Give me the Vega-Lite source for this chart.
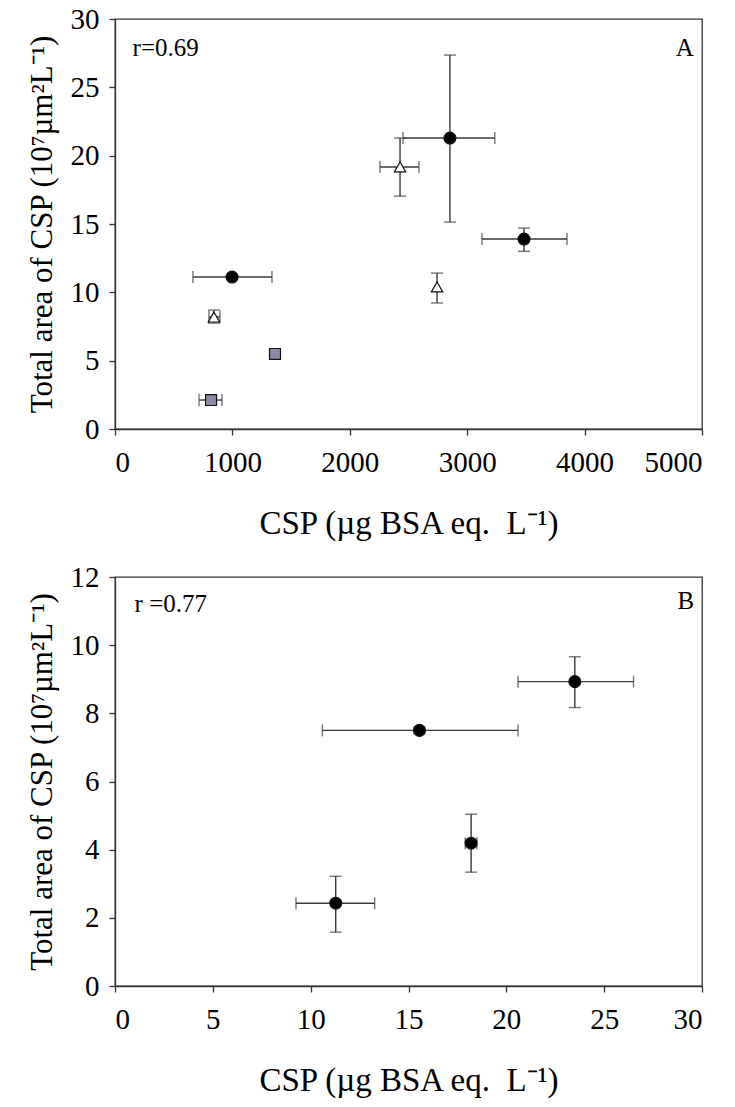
{
  "$schema": "https://vega.github.io/schema/vega-lite/v6.json",
  "padding": {"left": 25, "top": 4, "right": 5, "bottom": 2},
  "background": "white",
  "spacing": 21,
  "config": {
    "font": "Liberation Serif",
    "view": {"stroke": "#333333", "strokeWidth": 1.3},
    "axis": {
      "grid": false,
      "domainColor": "#333333",
      "domainWidth": 1.3,
      "tickColor": "#333333",
      "tickWidth": 1.3,
      "tickSize": 6,
      "labelFont": "Liberation Serif",
      "labelFontSize": 29,
      "labelColor": "black",
      "titleFont": "Liberation Serif",
      "titleFontWeight": "normal",
      "titleColor": "black",
      "format": "d"
    },
    "axisX": {"labelPadding": 13, "titlePadding": 30, "titleFontSize": 33},
    "axisY": {"labelPadding": 10, "titlePadding": 12, "titleFontSize": 31}
  },
  "datasets": {
    "A": [
      {"x": 997, "y": 11.12, "xlo": 664, "xhi": 1337, "ylo": 11.12, "yhi": 11.12, "type": "circle"},
      {"x": 2853, "y": 21.29, "xlo": 2453, "xhi": 3235, "ylo": 15.14, "yhi": 27.36, "type": "circle"},
      {"x": 3484, "y": 13.9, "xlo": 3126, "xhi": 3850, "ylo": 13.0, "yhi": 14.7, "type": "circle"},
      {"x": 2428, "y": 19.17, "xlo": 2257, "xhi": 2589, "ylo": 17.04, "yhi": 21.29, "type": "triangle"},
      {"x": 2743, "y": 10.39, "xlo": 2743, "xhi": 2743, "ylo": 9.22, "yhi": 11.41, "type": "triangle"},
      {"x": 843, "y": 8.19, "xlo": 800, "xhi": 894, "ylo": 7.75, "yhi": 8.7, "type": "triangle"},
      {"x": 1363, "y": 5.49, "xlo": 1363, "xhi": 1363, "ylo": 5.3, "yhi": 5.7, "type": "square"},
      {"x": 818, "y": 2.12, "xlo": 716, "xhi": 911, "ylo": 2.12, "yhi": 2.12, "type": "square"}
    ],
    "B": [
      {"x": 11.28, "y": 2.43, "xlo": 9.25, "xhi": 13.27, "ylo": 1.58, "yhi": 3.22, "type": "circle"},
      {"x": 15.56, "y": 7.5, "xlo": 10.6, "xhi": 20.6, "ylo": 7.4, "yhi": 7.6, "type": "circle"},
      {"x": 18.2, "y": 4.19, "xlo": 17.9, "xhi": 18.5, "ylo": 3.34, "yhi": 5.04, "type": "circle"},
      {"x": 23.5, "y": 8.93, "xlo": 20.6, "xhi": 26.5, "ylo": 8.17, "yhi": 9.66, "type": "circle"}
    ],
    "textA": [
      {"x": 150, "y": 27.9, "label": "r=0.69", "side": "left"},
      {"x": 4930, "y": 27.9, "label": "A", "side": "right"}
    ],
    "textB": [
      {"x": 1.0, "y": 11.2, "label": "r =0.77", "side": "left"},
      {"x": 29.6, "y": 11.3, "label": "B", "side": "right"}
    ]
  },
  "vconcat": [
    {
      "width": 587,
      "height": 410,
      "data": {"name": "A"},
      "encoding": {
        "x": {"field": "x", "type": "quantitative", "scale": {"domain": [0, 5000], "nice": false},
              "axis": {"values": [0, 1000, 2000, 3000, 4000, 5000], "title": "CSP (µg BSA eq.\u00a0 L⁻¹)"}},
        "y": {"field": "y", "type": "quantitative", "scale": {"domain": [0, 30], "nice": false},
              "axis": {"values": [0, 5, 10, 15, 20, 25, 30], "title": "Total area of CSP (10⁷µm²L⁻¹)"}}
      },
      "layer": [
        {"mark": {"type": "rule", "color": "#3a3a3a", "strokeWidth": 1.4},
         "encoding": {"x": {"field": "xlo", "type": "quantitative"}, "x2": {"field": "xhi"}}},
        {"mark": {"type": "rule", "color": "#3a3a3a", "strokeWidth": 1.4},
         "encoding": {"y": {"field": "ylo", "type": "quantitative"}, "y2": {"field": "yhi"}}},
        {"mark": {"type": "tick", "orient": "vertical", "size": 12, "thickness": 1.4, "color": "#3a3a3a"},
         "encoding": {"x": {"field": "xlo", "type": "quantitative"}}},
        {"mark": {"type": "tick", "orient": "vertical", "size": 12, "thickness": 1.4, "color": "#3a3a3a"},
         "encoding": {"x": {"field": "xhi", "type": "quantitative"}}},
        {"mark": {"type": "tick", "orient": "horizontal", "size": 12, "thickness": 1.4, "color": "#3a3a3a"},
         "encoding": {"y": {"field": "ylo", "type": "quantitative"}}},
        {"mark": {"type": "tick", "orient": "horizontal", "size": 12, "thickness": 1.4, "color": "#3a3a3a"},
         "encoding": {"y": {"field": "yhi", "type": "quantitative"}}},
        {"mark": {"type": "point", "filled": true, "stroke": "#111111", "strokeWidth": 1.2, "opacity": 1},
         "encoding": {
           "shape": {"field": "type", "type": "nominal", "scale": {"domain": ["circle", "triangle", "square"], "range": ["circle", "triangle-up", "square"]}, "legend": null},
           "fill": {"field": "type", "type": "nominal", "scale": {"domain": ["circle", "triangle", "square"], "range": ["#000000", "#ffffff", "#8a8aa6"]}, "legend": null},
           "size": {"field": "type", "type": "nominal", "scale": {"domain": ["circle", "triangle", "square"], "range": [140, 120, 90]}, "legend": null}
         }},
        {"data": {"name": "textA"}, "transform": [{"filter": "datum.side == 'left'"}],
         "mark": {"type": "text", "align": "left", "baseline": "middle", "fontSize": 25, "font": "Liberation Serif", "color": "black"},
         "encoding": {"text": {"field": "label"}}},
        {"data": {"name": "textA"}, "transform": [{"filter": "datum.side == 'right'"}],
         "mark": {"type": "text", "align": "right", "baseline": "middle", "fontSize": 25, "font": "Liberation Serif", "color": "black"},
         "encoding": {"text": {"field": "label"}}}
      ]
    },
    {
      "width": 587,
      "height": 409,
      "data": {"name": "B"},
      "encoding": {
        "x": {"field": "x", "type": "quantitative", "scale": {"domain": [0, 30], "nice": false},
              "axis": {"values": [0, 5, 10, 15, 20, 25, 30], "title": "CSP (µg BSA eq.\u00a0 L⁻¹)"}},
        "y": {"field": "y", "type": "quantitative", "scale": {"domain": [0, 12], "nice": false},
              "axis": {"values": [0, 2, 4, 6, 8, 10, 12], "title": "Total area of CSP (10⁷µm²L⁻¹)"}}
      },
      "layer": [
        {"mark": {"type": "rule", "color": "#3a3a3a", "strokeWidth": 1.4},
         "encoding": {"x": {"field": "xlo", "type": "quantitative"}, "x2": {"field": "xhi"}}},
        {"mark": {"type": "rule", "color": "#3a3a3a", "strokeWidth": 1.4},
         "encoding": {"y": {"field": "ylo", "type": "quantitative"}, "y2": {"field": "yhi"}}},
        {"mark": {"type": "tick", "orient": "vertical", "size": 12, "thickness": 1.4, "color": "#3a3a3a"},
         "encoding": {"x": {"field": "xlo", "type": "quantitative"}}},
        {"mark": {"type": "tick", "orient": "vertical", "size": 12, "thickness": 1.4, "color": "#3a3a3a"},
         "encoding": {"x": {"field": "xhi", "type": "quantitative"}}},
        {"mark": {"type": "tick", "orient": "horizontal", "size": 12, "thickness": 1.4, "color": "#3a3a3a"},
         "encoding": {"y": {"field": "ylo", "type": "quantitative"}}},
        {"mark": {"type": "tick", "orient": "horizontal", "size": 12, "thickness": 1.4, "color": "#3a3a3a"},
         "encoding": {"y": {"field": "yhi", "type": "quantitative"}}},
        {"mark": {"type": "point", "filled": true, "fill": "#000000", "stroke": "#111111", "strokeWidth": 1.2, "opacity": 1, "size": 140, "shape": "circle"},
         "encoding": {}},
        {"data": {"name": "textB"}, "transform": [{"filter": "datum.side == 'left'"}],
         "mark": {"type": "text", "align": "left", "baseline": "middle", "fontSize": 25, "font": "Liberation Serif", "color": "black"},
         "encoding": {"text": {"field": "label"}}},
        {"data": {"name": "textB"}, "transform": [{"filter": "datum.side == 'right'"}],
         "mark": {"type": "text", "align": "right", "baseline": "middle", "fontSize": 25, "font": "Liberation Serif", "color": "black"},
         "encoding": {"text": {"field": "label"}}}
      ]
    }
  ]
}
